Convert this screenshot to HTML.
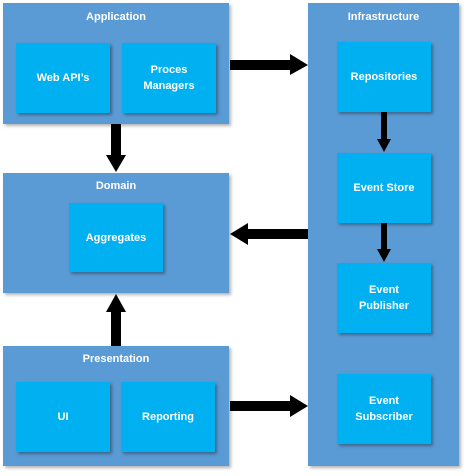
<!DOCTYPE html><html><head><style>
body{margin:0;width:468px;height:476px;background:#fff;position:relative;overflow:hidden;font-family:"Liberation Sans",sans-serif;font-weight:bold;font-size:11px;color:#fff}
.c{position:absolute;background:#5b9bd5;box-shadow:2px 2px 3px rgba(0,0,0,.3)}
.t{position:absolute;left:0;right:0;text-align:center}
.b{position:absolute;background:#00b0f0;box-shadow:2px 2px 3px rgba(0,0,0,.35);display:flex;align-items:center;justify-content:center;text-align:center;line-height:16px}
svg{position:absolute;left:0;top:0}
</style></head><body>
<div class="c" style="left:3px;top:3px;width:226px;height:121px"><div class="t" style="top:8px">Application</div></div>
<div class="c" style="left:3px;top:173px;width:226px;height:120px"><div class="t" style="top:7px">Domain</div></div>
<div class="c" style="left:3px;top:346px;width:226px;height:120px"><div class="t" style="top:7px">Presentation</div></div>
<div class="c" style="left:308px;top:3px;width:151px;height:463px"><div class="t" style="top:8px">Infrastructure</div></div>
<div class="b" style="left:16px;top:43px;width:94px;height:70px">Web API’s</div>
<div class="b" style="left:122px;top:43px;width:94px;height:70px">Proces<br>Managers</div>
<div class="b" style="left:69px;top:203px;width:94px;height:69px">Aggregates</div>
<div class="b" style="left:16px;top:382px;width:94px;height:70px">UI</div>
<div class="b" style="left:121px;top:382px;width:94px;height:70px">Reporting</div>
<div class="b" style="left:337px;top:42px;width:94px;height:70px">Repositories</div>
<div class="b" style="left:337px;top:153px;width:94px;height:70px">Event Store</div>
<div class="b" style="left:337px;top:263px;width:94px;height:70px">Event<br>Publisher</div>
<div class="b" style="left:337px;top:374px;width:94px;height:70px">Event<br>Subscriber</div>
<svg width="468" height="476">
<polygon points="111,124 121,124 121,155 126,155 116,172 106,155 111,155"/>
<polygon points="111,346 121,346 121,312 126,312 116,294 106,312 111,312"/>
<polygon points="230,60 290,60 290,54 308,65 290,75 290,70 230,70"/>
<polygon points="230,401 290,401 290,395 308,406 290,417 290,411 230,411"/>
<polygon points="308,229 248,229 248,223 230,234 248,245 248,239 308,239"/>
<polygon points="381,112 387,112 387,139 391,139 384,152 377,139 381,139"/>
<polygon points="381,223 387,223 387,249 391,249 384,262 377,249 381,249"/>
</svg>
</body></html>
